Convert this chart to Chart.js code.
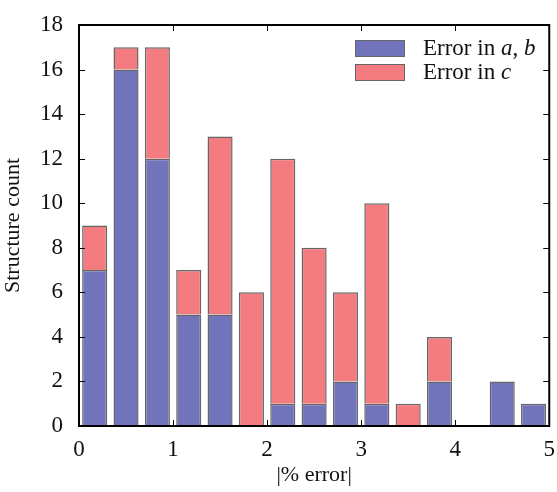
<!DOCTYPE html>
<html>
<head>
<meta charset="utf-8">
<script src="https://cdn.jsdelivr.net/npm/chart.js@4/dist/chart.umd.min.js"></script>
<style>
  body { margin: 0; background: #fff; }
  #wrap { position: relative; width: 557px; height: 492px; }
  #legend { position: absolute; left: 355px; top: 36px; font-family: "Liberation Serif", serif; font-size: 23px; line-height: 24px; color: #111; }
  #legend div { display: flex; align-items: center; height: 24px; }
  #legend span.patch { display: inline-block; width: 48px; height: 15px; border: 1.5px solid #666; margin-right: 18px; }
</style>
</head>
<body>
<div id="wrap">
  <canvas id="myChart" width="557" height="492"></canvas>
  <div id="legend">
    <div><span class="patch" style="background:#7274bb"></span>Error in&nbsp;<i>a</i>,&nbsp;<i>b</i></div>
    <div><span class="patch" style="background:#f47c80"></span>Error in&nbsp;<i>c</i></div>
  </div>
</div>
<script>
// 15 bins of width 1/3 between 0 and 5
const bins = ['0.17', '0.50', '0.83', '1.17', '1.50', '1.83', '2.17', '2.50', '2.83', '3.17', '3.50', '3.83', '4.17', '4.50', '4.83'];
const errAB = [7, 16, 12, 5, 5, 0, 1, 1, 2, 1, 0, 2, 0, 2, 1];
const errC = [2, 1, 5, 2, 8, 6, 11, 7, 4, 9, 1, 2, 0, 0, 0];
const xTicks = [0, 1, 2, 3, 4, 5];
const yTicks = [0, 2, 4, 6, 8, 10, 12, 14, 16, 18];

const serif = '"Liberation Serif", "Times New Roman", serif';

// ticks pointing inwards on all four sides, plus the frame
const innerTicks = {
  id: 'innerTicks',
  afterDraw(chart) {
    const ctx = chart.ctx;
    const a = chart.chartArea;
    const xs = chart.scales.xv, ys = chart.scales.y;
    ctx.save();
    ctx.strokeStyle = '#000';
    ctx.lineWidth = 1;
    ctx.beginPath();
    xTicks.forEach(v => {
      const px = Math.round(xs.getPixelForValue(v)) + 0.5;
      ctx.moveTo(px, a.bottom); ctx.lineTo(px, a.bottom - 6);
      ctx.moveTo(px, a.top); ctx.lineTo(px, a.top + 6);
    });
    yTicks.forEach(v => {
      const py = Math.round(ys.getPixelForValue(v)) + 0.5;
      ctx.moveTo(a.left, py); ctx.lineTo(a.left + 6, py);
      ctx.moveTo(a.right, py); ctx.lineTo(a.right - 6, py);
    });
    ctx.stroke();
    ctx.lineWidth = 2;
    ctx.strokeRect(a.left, a.top, a.right - a.left, a.bottom - a.top);
    ctx.restore();
  }
};

const ctx = document.getElementById('myChart');
const chart = new Chart(ctx, {
  type: 'bar',
  data: {
    labels: bins,
    datasets: [{
      label: 'Error in a, b',
      data: errAB,
      backgroundColor: '#7274bb',
      borderColor: '#666',
      borderWidth: 1.5,
      categoryPercentage: 1,
      barPercentage: 0.8
    }, {
      label: 'Error in c',
      data: errC,
      backgroundColor: '#f47c80',
      borderColor: '#666',
      borderWidth: 1.5,
      categoryPercentage: 1,
      barPercentage: 0.8
    }]
  },
  options: {
    responsive: false,
    animation: false,
    layout: { padding: { top: 25, right: 5, left: 0, bottom: 0 } },
    plugins: { legend: { display: false }, tooltip: { enabled: false } },
    scales: {
      x: {
        stacked: true,
        display: false,
        grid: { display: false }
      },
      xv: {
        type: 'linear',
        position: 'bottom',
        offset: false,
        min: 0,
        max: 5,
        afterBuildTicks: s => { s.ticks = xTicks.map(v => ({ value: v })); },
        afterFit: s => { s.height = 66; },
        grid: { display: false, offset: false },
        border: { display: false },
        ticks: { color: '#111', font: { family: serif, size: 23 }, padding: 2, maxRotation: 0 },
        title: { display: true, text: '|% error|', color: '#111', font: { family: serif, size: 22 }, padding: { top: 0 } }
      },
      y: {
        stacked: true,
        min: 0,
        max: 18,
        afterBuildTicks: s => { s.ticks = yTicks.map(v => ({ value: v })); },
        afterFit: s => { s.width = 79; },
        grid: { display: false },
        border: { display: false },
        ticks: { color: '#111', font: { family: serif, size: 23 }, padding: 8 },
        title: { display: true, text: 'Structure count', color: '#111', font: { family: serif, size: 22 }, padding: { top: 0, bottom: 0 } }
      }
    }
  },
  plugins: [innerTicks]
});
</script>
</body>
</html>
